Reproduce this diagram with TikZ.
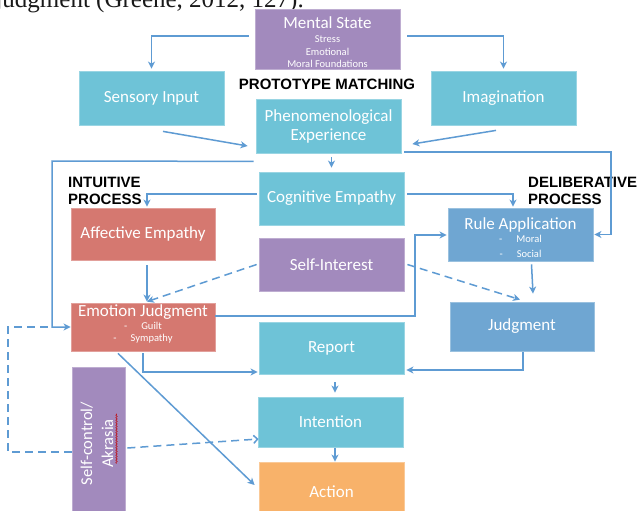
\documentclass[tikz,border=0pt]{standalone}
\usepackage{fontspec}
\setmainfont{Carlito}
\newfontfamily\labelfont{Liberation Sans}
\newfontfamily\citefont{Liberation Serif}
\usetikzlibrary{arrows.meta,decorations.pathmorphing}
\definecolor{boxcyan}{HTML}{6EC3D7}
\definecolor{boxpurple}{HTML}{A28ABD}
\definecolor{boxsalmon}{HTML}{D57870}
\definecolor{boxsteel}{HTML}{6FA6D2}
\definecolor{boxorange}{HTML}{F8B26A}
\definecolor{linkblue}{HTML}{5E9BD3}
\newcommand{\minor}{\fontsize{10.5}{12.5}\selectfont}
\begin{document}
\begin{tikzpicture}[x=1pt,y=-1pt,
  box/.style={rectangle, fill=#1, draw=#1!70!white, line width=0.8pt,
    inner sep=0pt, text=white, align=center,
    font=\fontsize{17}{20}\selectfont, minimum width=145pt},
  link/.style={draw=linkblue, line width=1.5pt,
    -{Stealth[length=7pt,width=7pt,inset=2pt]}},
  dashline/.style={draw=linkblue, line width=1.5pt, dash pattern=on 8pt off 5pt},
  dashlink/.style={link, dash pattern=on 8pt off 5pt},
  heading/.style={font=\labelfont\bfseries\fontsize{15}{17.5}\selectfont,
    align=left, inner sep=0pt, text=black}
]
\useasboundingbox (0,0) rectangle (637,511);
\fill[white] (0,0) rectangle (637,511);
\clip (0,0) rectangle (637,511);

% running text above the figure
\node[font=\citefont\fontsize{25}{30}\selectfont, anchor=base east,
  inner sep=0pt, text=black!90] (cite) at (304,8) {judgment (Greene, 2012, 127).};

% boxes
\node[box=boxpurple, minimum height=60pt] (ment) at (327.5,39)
  {\rule{0pt}{19pt}Mental State\\[-6pt]{\minor Stress}\\[-7.5pt]
   {\minor Emotional}\\[-7.5pt]{\minor Moral Foundations}};
\node[box=boxcyan, minimum height=54pt] (sens) at (151.5,98) {Sensory Input};
\node[box=boxcyan, minimum height=54pt] (imag) at (503.5,98) {Imagination};
\node[box=boxcyan, minimum height=54pt] (phen) at (328.5,126)
  {Phenomenological\\[-1pt]Experience};
\node[box=boxcyan, minimum height=53pt] (cogn) at (331.5,198.5) {Cognitive Empathy};
\node[box=boxsalmon, minimum width=144pt, minimum height=52pt] (affe) at (143,234)
  {Affective Empathy};
\node[box=boxpurple, minimum height=53pt] (self) at (331.5,264.5) {Self-Interest};
\node[box=boxsteel, minimum height=53pt] (rule) at (520.5,234.5)
  {\rule{0pt}{19pt}Rule Application\\[-7pt]
   {\minor -\hspace{14pt}Moral}\\[-5pt]
   {\minor -\hspace{14pt}Social}};
\node[box=boxsalmon, minimum width=144pt, minimum height=48pt] (emot) at (143,327)
  {Emotion Judgment\\[-7pt]
   {\minor -\hspace{14pt}Guilt}\\[-8pt]
   {\minor -\hspace{14pt}Sympathy\rule[-7.2pt]{0pt}{0pt}}};
\node[box=boxsteel, minimum width=144pt, minimum height=49pt] (judg) at (522,326.5)
  {Judgment};
\node[box=boxcyan, minimum height=52pt] (repo) at (331.5,348) {Report};
\node[box=boxcyan, minimum height=50pt] (inte) at (330.5,422) {Intention};
\node[box=boxorange, minimum height=60pt] (acti) at (331.5,492) {Action};
\node[box=boxpurple, minimum width=53pt, minimum height=153pt] (sctl) at (98.5,443.5)
  {\rotatebox{90}{\fontsize{16.5}{21}\selectfont
   \begin{tabular}{@{}c@{}}Self-control/\\Akrasia\end{tabular}}};
% spell-check squiggle under "Akrasia"
\draw[red!75!black, line width=0.5pt, decorate,
  decoration={snake, amplitude=0.7pt, segment length=2.5pt}]
  ([xshift=18pt,yshift=-20pt]sctl.center) -- ([xshift=18pt,yshift=30pt]sctl.center);

% headings
\node[heading, font=\labelfont\bfseries\fontsize{15}{17}\selectfont] (proto) at (327,84)
  {PROTOTYPE MATCHING};
\node[heading, anchor=north west] (intu) at (68,176.5) {INTUITIVE\\PROCESS};
\node[heading, anchor=north west] (deli) at (528,176.5) {DELIBERATIVE\\PROCESS};

% rails
\coordinate (leftrail) at (52,161);
\coordinate (rightrail) at (611,152);
\coordinate (jog) at (415,316);
\coordinate (loopcorner) at (8,327);
\coordinate (railjoin) at (52,327);

% connectors
\draw[link] ([xshift=-6pt,yshift=3pt]ment.west) -| ([yshift=2pt]sens.north);
\draw[link] ([xshift=7pt,yshift=3pt]ment.east) -| ([yshift=2pt]imag.north);
\draw[link] ([xshift=11.5pt,yshift=-6pt]sens.south) -- ([xshift=-8pt,yshift=-20pt]phen.west);
\draw[link] ([xshift=-7.5pt,yshift=-5pt]imag.south) -- ([xshift=11pt,yshift=-18pt]phen.east);
\draw[link] ([yshift=-4pt]cogn.north |- phen.south) -- ([yshift=4pt]cogn.north);
\draw[link] ([xshift=-2pt,yshift=-8pt]phen.south west) -- (leftrail) |- (emot.west);
\draw[link] ([xshift=3pt,yshift=-26pt]phen.east) -- (rightrail) |- ([xshift=1pt]rule.east);
\draw[link] ([xshift=-2pt,yshift=4.5pt]cogn.west) -| ([xshift=4pt,yshift=1pt]affe.north);
\draw[link] ([xshift=3pt,yshift=4.5pt]cogn.east) -| ([xshift=-7.5pt,yshift=1pt]rule.north);
\draw[link] ([xshift=4pt,yshift=-5pt]affe.south) -- ([xshift=4pt,yshift=1pt]emot.north);
\draw[dashlink] ([xshift=-2pt]self.west) -- ([xshift=4pt,yshift=1pt]emot.north);
\draw[dashlink] ([xshift=3pt]self.east) -- ([xshift=-2pt,yshift=2pt]judg.north);
\draw[link] ([yshift=11pt]emot.east) -- (jog) |- ([xshift=-1pt,yshift=-0.5pt]rule.west);
\draw[link] ([xshift=11pt,yshift=-3pt]rule.south) -- ([xshift=11pt,yshift=8pt]judg.north);
\draw[link] ([xshift=1pt,yshift=-1pt]judg.south) |- ([xshift=2pt,yshift=-22pt]repo.east);
\draw[link] ([yshift=-2pt]emot.south) |- ([xshift=-1pt,yshift=-24pt]repo.west);
\draw[link] ([xshift=-25pt,yshift=-2pt]emot.south) -- ([xshift=-4pt,yshift=7pt]acti.west);
\draw[link] ([xshift=3.5pt,yshift=-8pt]repo.south) -- ([xshift=4.5pt,yshift=4pt]inte.north);
\draw[link] ([xshift=4.5pt,yshift=-1pt]inte.south) -- ([xshift=3.5pt]acti.north);
\draw[dashline, -{Straight Barb[length=4pt,width=8pt]}]
  ([xshift=2pt,yshift=-4.5pt]sctl.east) -- ([xshift=1pt,yshift=-17pt]inte.west);
\draw[dashline] ([yshift=-8.5pt]sctl.west) -| (loopcorner) -- (railjoin);
\end{tikzpicture}
\end{document}
